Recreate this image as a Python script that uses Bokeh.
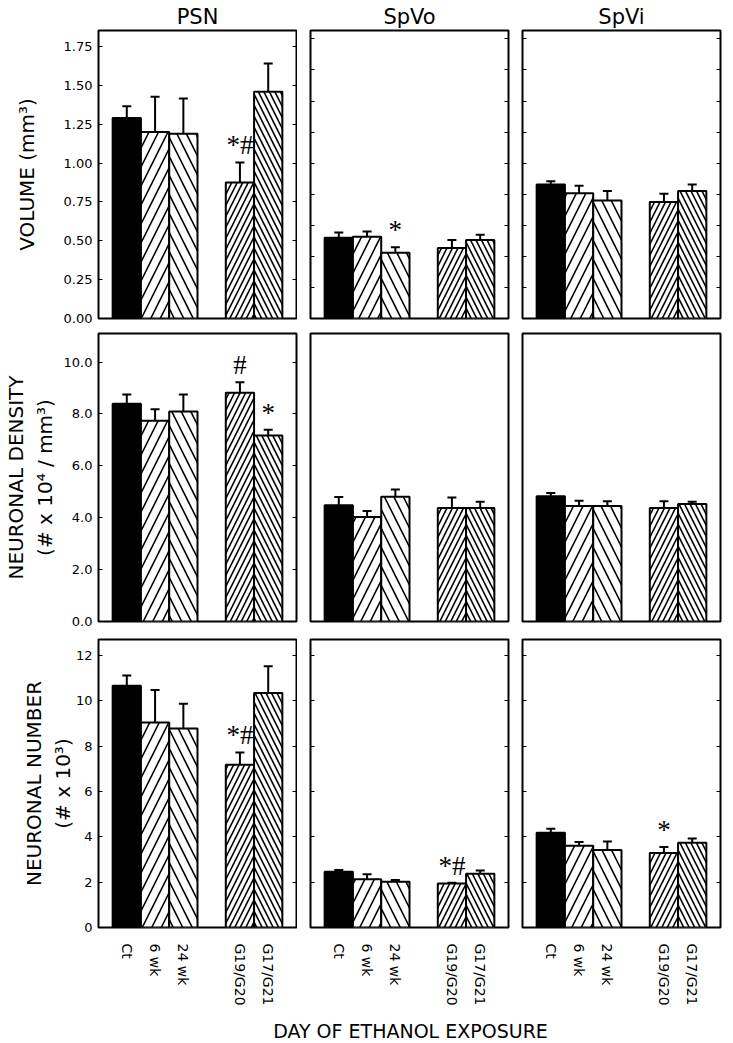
from bokeh.plotting import figure
from bokeh.layouts import gridplot, column
from bokeh.models import (ColumnDataSource, Range1d, FixedTicker, LinearAxis,
                          Whisker, TeeHead, PrintfTickFormatter, CustomJSTickFormatter)
from bokeh.core.properties import value
from bokeh.embed import file_html
from bokeh.resources import INLINE

# ---------------- data ----------------
groups = ["Ct", "6 wk", "24 wk", "G19/G20", "G17/G21"]
regions = ["PSN", "SpVo", "SpVi"]

psn_volume = [1.29, 1.20, 1.19, 0.875, 1.46]
psn_volume_se = [0.077, 0.227, 0.226, 0.13, 0.182]
spvo_volume = [0.52, 0.526, 0.424, 0.454, 0.505]
spvo_volume_se = [0.034, 0.034, 0.034, 0.051, 0.034]
spvi_volume = [0.862, 0.807, 0.76, 0.75, 0.82]
spvi_volume_se = [0.022, 0.047, 0.06, 0.053, 0.042]

psn_density = [8.39, 7.74, 8.09, 8.82, 7.17]
psn_density_se = [0.36, 0.44, 0.66, 0.40, 0.22]
spvo_density = [4.48, 4.03, 4.81, 4.37, 4.37]
spvo_density_se = [0.32, 0.23, 0.28, 0.41, 0.25]
spvi_density = [4.83, 4.45, 4.45, 4.37, 4.53]
spvi_density_se = [0.12, 0.20, 0.18, 0.26, 0.09]

psn_number = [10.66, 9.04, 8.77, 7.18, 10.34]
psn_number_se = [0.45, 1.43, 1.10, 0.54, 1.18]
spvo_number = [2.46, 2.13, 2.02, 1.94, 2.37]
spvo_number_se = [0.08, 0.22, 0.07, 0.03, 0.14]
spvi_number = [4.18, 3.60, 3.42, 3.29, 3.74]
spvi_number_se = [0.18, 0.17, 0.37, 0.26, 0.19]

no_marks = ["", "", "", "", ""]
psn_volume_marks = ["", "", "", "*#", ""]
spvo_volume_marks = ["", "", "*", "", ""]
psn_density_marks = ["", "", "", "#", "*"]
psn_number_marks = ["", "", "", "*#", ""]
spvo_number_marks = ["", "", "", "*#", ""]
spvi_number_marks = ["", "", "", "*", ""]

volume_ticks_psn = [0.0, 0.25, 0.5, 0.75, 1.0, 1.25, 1.5, 1.75]
volume_ticks_sp = [0.0, 0.2, 0.4, 0.6, 0.8, 1.0, 1.2, 1.4, 1.6, 1.8]
density_ticks = [0, 2, 4, 6, 8, 10]
number_ticks = [0, 2, 4, 6, 8, 10, 12]

x_title = "DAY OF ETHANOL EXPOSURE"

# ---------------- style ----------------
FONT = "DejaVu Sans"
FW, FH = 198, 288
fills = ["black", "white", "white", "white", "white"]
hatches = [" ", "/", "\\", "/", "\\"]
hatch_scales = [10, 19, 19, 11, 11]
# gap between the chronic and the gestational groups
x_pos = [i + (1 if i >= 3 else 0) for i in range(len(groups))]

rows = [
    dict(label="VOLUME (mm³)", ymax=1.854, fmt="%.2f", standoff=22,
         series=[(psn_volume, psn_volume_se, psn_volume_marks),
                 (spvo_volume, spvo_volume_se, spvo_volume_marks),
                 (spvi_volume, spvi_volume_se, no_marks)],
         ticks=[volume_ticks_psn, volume_ticks_sp, volume_ticks_sp]),
    dict(label="NEURONAL DENSITY\n(# x 10⁴ / mm³)", ymax=11.1, fmt="%.1f", standoff=4,
         series=[(psn_density, psn_density_se, psn_density_marks),
                 (spvo_density, spvo_density_se, no_marks),
                 (spvi_density, spvi_density_se, no_marks)],
         ticks=[density_ticks, None, None]),
    dict(label="NEURONAL NUMBER\n(# x 10³)", ymax=12.7, fmt="%d", standoff=-2,
         series=[(psn_number, psn_number_se, psn_number_marks),
                 (spvo_number, spvo_number_se, spvo_number_marks),
                 (spvi_number, spvi_number_se, spvi_number_marks)],
         ticks=[number_ticks, number_ticks, number_ticks]),
]

col_borders = [(92, 7), (7, 7), (7, 3)]
row_borders = [(0, 8), (7, 9), (9, 0)]


def tick_axis(ticks, formatter):
    ax = LinearAxis(ticker=FixedTicker(ticks=ticks), formatter=formatter)
    ax.axis_line_color = None
    ax.major_tick_in = 4
    ax.major_tick_out = 0
    ax.major_tick_line_color = "black"
    ax.major_tick_line_width = 1
    ax.minor_tick_line_color = None
    ax.major_label_standoff = 6
    ax.major_label_text_font = FONT
    ax.major_label_text_font_size = "13px"
    ax.major_label_text_color = "black"
    return ax


def empty_fmt():
    return CustomJSTickFormatter(code="return ''")


def panel(r, c):
    spec = rows[r]
    mean, se, marks = spec["series"][c]
    top = [m + s for m, s in zip(mean, se)]
    src = ColumnDataSource(dict(x=x_pos, mean=mean, top=top, mark=marks,
                                fill=fills, hatch=hatches, hscale=hatch_scales))
    bl, br = col_borders[c]
    bt, bb = row_borders[r]
    kw = dict(frame_width=FW, frame_height=FH,
              x_range=Range1d(-1, 6), y_range=Range1d(0, spec["ymax"]),
              output_backend="svg", toolbar_location=None,
              x_axis_location="below" if r == 2 else None,
              y_axis_location=None,
              min_border_left=bl, min_border_right=br,
              min_border_top=bt, min_border_bottom=bb)
    if r == 0:
        kw["title"] = regions[c]
    p = figure(**kw)
    p.grid.visible = False
    p.outline_line_color = "black"
    p.outline_line_width = 2
    p.background_fill_color = "white"
    p.border_fill_color = "white"
    if r == 0:
        p.title.align = "center"
        p.title.text_font = FONT
        p.title.text_font_size = "21px"
        p.title.text_font_style = "normal"
        p.title.text_color = "black"
        p.title.standoff = 4

    ticks = spec["ticks"][c]
    if ticks is not None:
        if c == 0:
            left = tick_axis(ticks, PrintfTickFormatter(format=spec["fmt"]))
            left.axis_label = spec["label"]
            left.axis_label_text_font = FONT
            left.axis_label_text_font_size = "20px"
            left.axis_label_text_font_style = "normal"
            left.axis_label_text_color = "black"
            left.axis_label_standoff = spec["standoff"]
        else:
            left = tick_axis(ticks, empty_fmt())
            left.major_label_standoff = 0
        p.add_layout(left, "left")
        right = tick_axis(ticks, empty_fmt())
        right.major_label_standoff = 0
        p.add_layout(right, "right")

    p.vbar(x="x", top="mean", bottom=0, width=1, source=src,
           fill_color="fill", line_color="black", line_width=2,
           hatch_pattern="hatch", hatch_scale="hscale",
           hatch_color="black", hatch_weight=1.6)
    p.add_layout(Whisker(source=src, base="x", lower="mean", upper="top",
                         dimension="height", line_color="black", line_width=2,
                         lower_head=None,
                         upper_head=TeeHead(size=9, line_color="black", line_width=2)))
    p.text(x="x", y="top", text="mark", source=src,
           text_font=value("Liberation Serif"), text_font_size="27px",
           text_align="center", text_baseline="alphabetic", y_offset=-17,
           text_color="black")

    if r == 2:
        xa = p.xaxis[0]
        xa.ticker = FixedTicker(ticks=x_pos)
        xa.major_label_overrides = {x: g for x, g in zip(x_pos, groups)}
        xa.major_label_orientation = "vertical"
        xa.axis_line_color = None
        xa.major_tick_line_color = None
        xa.minor_tick_line_color = None
        xa.major_label_standoff = 10
        xa.major_label_text_font = FONT
        xa.major_label_text_font_size = "14px"
        xa.major_label_text_color = "black"
    return p


grid = gridplot([[panel(r, c) for c in range(3)] for r in range(3)],
                toolbar_location=None)

# shared x-axis title, centred under the middle column
lab = figure(frame_width=FW, frame_height=1, x_range=Range1d(0, 1), y_range=Range1d(0, 1),
             output_backend="svg", toolbar_location=None,
             x_axis_location="below", y_axis_location=None,
             min_border_left=311, min_border_right=208,
             min_border_top=10, min_border_bottom=0)
lab.outline_line_color = None
lab.grid.visible = False
lab.border_fill_color = "white"
xl = lab.xaxis[0]
xl.ticker = FixedTicker(ticks=[])
xl.axis_line_color = None
xl.major_tick_line_color = None
xl.minor_tick_line_color = None
xl.major_label_standoff = 0
xl.axis_label = x_title
xl.axis_label_standoff = 0
xl.axis_label_text_font = FONT
xl.axis_label_text_font_size = "19px"
xl.axis_label_text_font_style = "normal"
xl.axis_label_text_color = "black"

layout = column(grid, lab)
open("out.html", "w").write(file_html(layout, INLINE))
